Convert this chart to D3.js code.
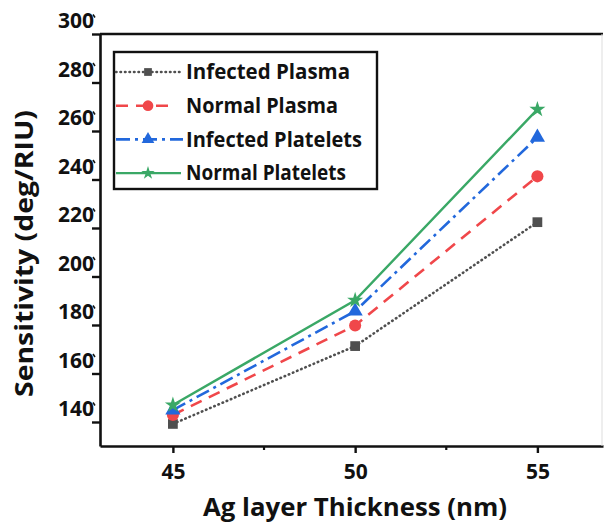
<!DOCTYPE html>
<html>
<head>
<meta charset="utf-8">
<script src="https://cdn.jsdelivr.net/npm/d3@7"></script>
<style>
  body { margin: 0; background: #fff; }
  svg text { font-family: "Open Sans", "DejaVu Sans", sans-serif; font-weight: 700; fill: #111; }
</style>
</head>
<body>
<svg id="chart" width="607" height="524"></svg>
<script>
//Ag layer thickness values (nm)
var thickness = [45, 50, 55];

//Sensitivity for each sample (deg/RIU)
var infectedPlasma   = [139.2, 171.3, 222.4];
var normalPlasma     = [142.9, 179.8, 241.3];
var infectedPlatelets = [144.9, 185.7, 257.4];
var normalPlatelets  = [147.0, 190.2, 268.9];

var seriesNames = ["Infected Plasma", "Normal Plasma", "Infected Platelets", "Normal Platelets"];
var yTicks = [140, 160, 180, 200, 220, 240, 260, 280, 300];
var xTicks = [45, 50, 55];
var xMinor = [47.5, 52.5];

var svg = d3.select("#chart");

//Scales
var x = d3.scaleLinear().domain([43, 56.8]).range([100, 603]);
var y = d3.scaleLinear().domain([130.1, 300]).range([446, 34]);

//Style of each series
var styles = [
  {color: "#4f4f4f", dash: "0.5,4", width: 2.6, symbol: d3.symbolSquare, size: 95, legSize: 60, legEnd: 183},
  {color: "#f0474a", dash: "12,8", width: 2.6, symbol: d3.symbolCircle, size: 115, legSize: 90, legEnd: 168},
  {color: "#2268dc", dash: "14,5,3,5", width: 2.6, symbol: d3.symbolTriangle, size: 100, legSize: 70, legEnd: 183},
  {color: "#3aa866", dash: null, width: 2.4, symbol: d3.symbolStar, size: 80, legSize: 55, legEnd: 181}
];

var seriesValues = [infectedPlasma, normalPlasma, infectedPlatelets, normalPlatelets];

var line = d3.line()
  .x(function(d, i) { return x(thickness[i]); })
  .y(function(d) { return y(d); });

//Lines first, then markers
seriesValues.forEach(function(vals, s) {
  svg.append("path")
    .attr("d", line(vals))
    .attr("fill", "none")
    .attr("stroke", styles[s].color)
    .attr("stroke-width", styles[s].width)
    .attr("stroke-linecap", s == 0 ? "round" : "butt")
    .attr("stroke-dasharray", styles[s].dash);
});

seriesValues.forEach(function(vals, s) {
  svg.append("g").selectAll("path")
    .data(vals)
    .enter().append("path")
    .attr("d", d3.symbol().type(styles[s].symbol).size(styles[s].size))
    .attr("transform", function(d, i) { return "translate(" + x(thickness[i]) + "," + y(d) + ")"; })
    .attr("fill", styles[s].color);
});

//X Axis
var xAxis = svg.append("g")
  .attr("transform", "translate(0," + y.range()[0] + ")")
  .call(d3.axisBottom(x).tickValues(xTicks).tickSize(7).tickSizeOuter(0));
xAxis.select(".domain").attr("stroke", "#111").attr("stroke-width", 2.6);
xAxis.selectAll(".tick line").attr("stroke", "#111").attr("stroke-width", 2.4);
xAxis.selectAll(".tick text").attr("y", 18).attr("font-size", 21);

svg.append("g")
  .selectAll("line")
  .data(xMinor)
  .enter().append("line")
  .attr("x1", function(d) { return x(d); })
  .attr("x2", function(d) { return x(d); })
  .attr("y1", y.range()[0])
  .attr("y2", y.range()[0] + 4)
  .attr("stroke", "#111")
  .attr("stroke-width", 2.2);

//Y Axis, labels sit a bit above their ticks like in the original
var yAxis = svg.append("g")
  .attr("transform", "translate(" + x.range()[0] + ",0)")
  .call(d3.axisLeft(y).tickValues(yTicks).tickSize(8).tickSizeOuter(0));
yAxis.select(".domain").attr("stroke", "#111").attr("stroke-width", 2.6);
yAxis.selectAll(".tick line").attr("stroke", "#111").attr("stroke-width", 2.4);
yAxis.selectAll(".tick text").attr("x", -6).attr("dy", "0.35em")
  .attr("transform", "translate(0,-13.5)").attr("font-size", 21);
yAxis.selectAll(".tick").append("line")
  .attr("x1", -7).attr("x2", -5)
  .attr("y1", -20).attr("y2", -17)
  .attr("stroke", "#111").attr("stroke-width", 1.5);

//Top and right frame
svg.append("line")
  .attr("x1", x.range()[0]).attr("x2", x.range()[1])
  .attr("y1", y.range()[1]).attr("y2", y.range()[1])
  .attr("stroke", "#111").attr("stroke-width", 2.6);
svg.append("line")
  .attr("x1", x.range()[1] - 1).attr("x2", x.range()[1] - 1)
  .attr("y1", y.range()[1]).attr("y2", y.range()[0])
  .attr("stroke", "#ddd").attr("stroke-width", 1);

//Axis titles
svg.append("text")
  .attr("x", 355).attr("y", 516)
  .attr("text-anchor", "middle")
  .attr("font-size", 25)
  .attr("textLength", 304)
  .attr("lengthAdjust", "spacingAndGlyphs")
  .text("Ag layer Thickness (nm)");

svg.append("text")
  .attr("transform", "translate(33,253.5) rotate(-90)")
  .attr("text-anchor", "middle")
  .attr("font-size", 25)
  .attr("textLength", 287)
  .attr("lengthAdjust", "spacingAndGlyphs")
  .text("Sensitivity (deg/RIU)");

//Legend
var legend = svg.append("g");
legend.append("rect")
  .attr("x", 114).attr("y", 52)
  .attr("width", 263).attr("height", 137)
  .attr("fill", "#fff")
  .attr("stroke", "#111")
  .attr("stroke-width", 2.4);

var items = legend.selectAll("g.item")
  .data(seriesNames)
  .enter().append("g")
  .attr("class", "item")
  .attr("transform", function(d, i) { return "translate(0," + (72 + i * 33.7) + ")"; });

items.append("line")
  .attr("x1", 116)
  .attr("x2", function(d, i) { return styles[i].legEnd; })
  .attr("stroke", function(d, i) { return styles[i].color; })
  .attr("stroke-width", function(d, i) { return styles[i].width; })
  .attr("stroke-linecap", function(d, i) { return i == 0 ? "round" : "butt"; })
  .attr("stroke-dasharray", function(d, i) { return styles[i].dash; });

items.append("path")
  .attr("d", function(d, i) { return d3.symbol().type(styles[i].symbol).size(styles[i].legSize)(); })
  .attr("transform", "translate(148,0)")
  .attr("fill", function(d, i) { return styles[i].color; });

items.append("text")
  .attr("x", 186)
  .attr("dy", "0.35em")
  .attr("font-size", 20.5)
  .attr("textLength", function(d, i) { return [164, 152, 176, 160][i]; })
  .attr("lengthAdjust", "spacingAndGlyphs")
  .text(function(d) { return d; });
</script>
</body>
</html>
